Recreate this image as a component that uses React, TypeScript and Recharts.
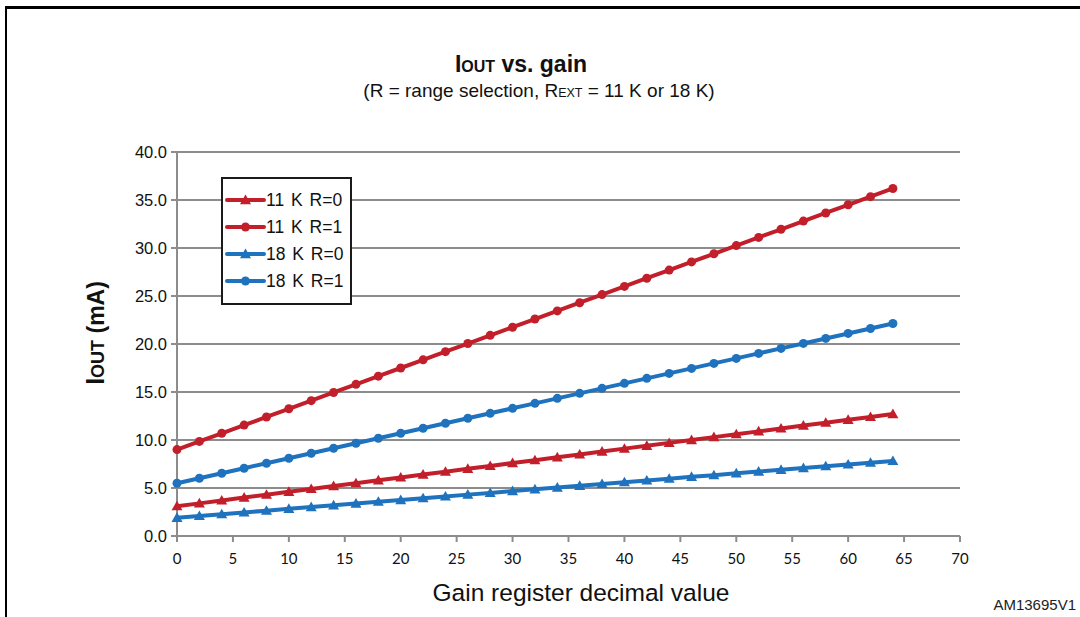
import React from 'react';
import { LineChart, Line, XAxis, YAxis, CartesianGrid } from 'recharts';

const gainValues = [
    0, 2, 4, 6, 8, 10, 12, 14, 16, 18, 20, 22, 24, 26, 28, 30, 32, 34, 36, 38, 40, 42, 44, 46, 48, 50, 52,
    54, 56, 58, 60, 62, 64,
];

const k11r0 = [
    3.1, 3.4, 3.7, 4.0, 4.3, 4.6, 4.9, 5.2, 5.5, 5.8, 6.1, 6.4, 6.7, 7.0, 7.3, 7.6, 7.9, 8.2, 8.5, 8.8, 9.1,
    9.4, 9.7, 10.0, 10.3, 10.6, 10.9, 11.2, 11.5, 11.8, 12.1, 12.4, 12.7,
];
const k11r1 = [
    9.0, 9.85, 10.7, 11.55, 12.4, 13.25, 14.1, 14.95, 15.8, 16.65, 17.5, 18.35, 19.2, 20.05, 20.9, 21.75,
    22.6, 23.45, 24.3, 25.15, 26.0, 26.85, 27.7, 28.55, 29.4, 30.25, 31.1, 31.95, 32.8, 33.65, 34.5, 35.35,
    36.2,
];
const k18r0 = [
    1.9, 2.09, 2.27, 2.46, 2.64, 2.83, 3.01, 3.2, 3.38, 3.57, 3.75, 3.94, 4.12, 4.31, 4.49, 4.68, 4.86, 5.05,
    5.23, 5.42, 5.6, 5.79, 5.97, 6.16, 6.34, 6.53, 6.71, 6.9, 7.08, 7.27, 7.45, 7.64, 7.82,
];
const k18r1 = [
    5.5, 6.02, 6.54, 7.06, 7.58, 8.1, 8.62, 9.14, 9.66, 10.18, 10.7, 11.22, 11.74, 12.26, 12.78, 13.3, 13.82,
    14.34, 14.86, 15.38, 15.9, 16.42, 16.94, 17.46, 17.98, 18.5, 19.02, 19.54, 20.06, 20.58, 21.1, 21.62,
    22.14,
];

const xTicks = [0, 5, 10, 15, 20, 25, 30, 35, 40, 45, 50, 55, 60, 65, 70];
const yTicks = [0, 5, 10, 15, 20, 25, 30, 35, 40];

const RED = '#C21F2B';
const BLUE = '#1E72BE';
const GRID = '#8C8C8C';
const FONT = '"Liberation Sans", Arial, sans-serif';

const series = [
    { key: 'k11r0', name: '11 K R=0', color: RED, shape: 'triangle' },
    { key: 'k11r1', name: '11 K R=1', color: RED, shape: 'circle' },
    { key: 'k18r0', name: '18 K R=0', color: BLUE, shape: 'triangle' },
    { key: 'k18r1', name: '18 K R=1', color: BLUE, shape: 'circle' },
];

const data = gainValues.map((g, i) => ({
    gain: g,
    k11r0: k11r0[i],
    k11r1: k11r1[i],
    k18r0: k18r0[i],
    k18r1: k18r1[i],
}));

function marker(shape: string, cx: number, cy: number, color: string, key?: string) {
    if (shape === 'triangle') {
        const s = 5.5;
        return (
            <path
                key={key}
                d={`M${cx},${cy - s} L${cx + s},${cy + s * 0.75} L${cx - s},${cy + s * 0.75} Z`}
                fill={color}
            />
        );
    }
    return <circle key={key} cx={cx} cy={cy} r={4.5} fill={color} />;
}

function makeDot(shape: string, color: string) {
    return (props: any) => {
        const { cx, cy, index } = props;
        if (cx == null || cy == null) return <g key={`d-${index}`} />;
        return marker(shape, cx, cy, color, `d-${shape}-${color}-${index}`);
    };
}

// legend drawn by hand so it floats over the plot like the original
function LegendBox() {
    return (
        <div
            style={{
                position: 'absolute',
                left: 221,
                top: 177,
                width: 131,
                height: 128,
                border: '2px solid #1a1a1a',
                background: '#fff',
                boxSizing: 'border-box',
            }}
        >
            <svg width={127} height={124} style={{ display: 'block' }}>
                {series.map((s, i) => {
                    const y = 21 + i * 27;
                    return (
                        <g key={s.key}>
                            <line x1={4} y1={y} x2={41} y2={y} stroke={s.color} strokeWidth={4} strokeLinecap="round" />
                            {marker(s.shape, 22.5, y, s.color)}
                            <text x={43} y={y + 6} fontSize={17.5} fontFamily={FONT} fill="#111" wordSpacing={2}>
                                {s.name}
                            </text>
                        </g>
                    );
                })}
            </svg>
        </div>
    );
}

export default function App() {
    return (
        <div style={{ position: 'absolute', left: 0, top: 0, width: 1080, height: 617, background: '#fff' }}>
            <LineChart
                width={1080}
                height={617}
                data={data}
                margin={{ top: 152, right: 120, bottom: 51, left: 117 }}
            >
                <CartesianGrid vertical={false} stroke={GRID} strokeWidth={2} />
                <XAxis
                    dataKey="gain"
                    type="number"
                    domain={[0, 70]}
                    ticks={xTicks}
                    interval={0}
                    height={30}
                    axisLine={{ stroke: GRID, strokeWidth: 2 }}
                    tickLine={{ stroke: GRID, strokeWidth: 2 }}
                    tickSize={6}
                    tickMargin={11}
                    tick={{ fill: '#111', fontSize: 15, fontFamily: 'Lato, "Open Sans", sans-serif' }}
                />
                <YAxis
                    type="number"
                    domain={[0, 40]}
                    ticks={yTicks}
                    interval={0}
                    width={60}
                    axisLine={{ stroke: GRID, strokeWidth: 2 }}
                    tickLine={{ stroke: GRID, strokeWidth: 2 }}
                    tickSize={6}
                    tickMargin={4}
                    tickFormatter={(v: number) => v.toFixed(1)}
                    tick={{ fill: '#111', fontSize: 16.5, fontFamily: FONT }}
                />
                {series.map((s) => (
                    <Line
                        key={s.key}
                        type="linear"
                        dataKey={s.key}
                        name={s.name}
                        stroke={s.color}
                        strokeWidth={4}
                        dot={makeDot(s.shape, s.color)}
                        activeDot={false}
                        isAnimationActive={false}
                    />
                ))}
            </LineChart>
            <LegendBox />
            <svg
                width={1080}
                height={617}
                style={{ position: 'absolute', left: 0, top: 0, pointerEvents: 'none' }}
            >
                <line x1={5} y1={7.5} x2={1080} y2={7.5} stroke="#000" strokeWidth={3} />
                <line x1={6} y1={6} x2={6} y2={617} stroke="#000" strokeWidth={2} />
                <text x={521} y={72} textAnchor="middle" fontFamily={FONT} fill="#111" fontWeight="bold">
                    <tspan fontSize={23}>I</tspan>
                    <tspan fontSize={16}>OUT</tspan>
                    <tspan fontSize={23}> vs. gain</tspan>
                </text>
                <text x={539} y={97} textAnchor="middle" fontFamily={FONT} fill="#111" fontSize={19}>
                    <tspan>(R = range selection, R</tspan>
                    <tspan fontSize={12.5}>EXT</tspan>
                    <tspan> = 11 K or 18 K)</tspan>
                </text>
                <text
                    x={0}
                    y={0}
                    transform="translate(104,333) rotate(-90)"
                    textAnchor="middle"
                    fontFamily={FONT}
                    fill="#111"
                    fontWeight="bold"
                >
                    <tspan fontSize={25}>I</tspan>
                    <tspan fontSize={18}>OUT</tspan>
                    <tspan fontSize={23}>{'  (mA)'}</tspan>
                </text>
                <text x={581} y={601} textAnchor="middle" fontFamily={FONT} fill="#111" fontSize={24.5}>
                    Gain register decimal value
                </text>
                <text x={1076} y={610} textAnchor="end" fontFamily={FONT} fill="#222" fontSize={15}>
                    AM13695V1
                </text>
            </svg>
        </div>
    );
}
